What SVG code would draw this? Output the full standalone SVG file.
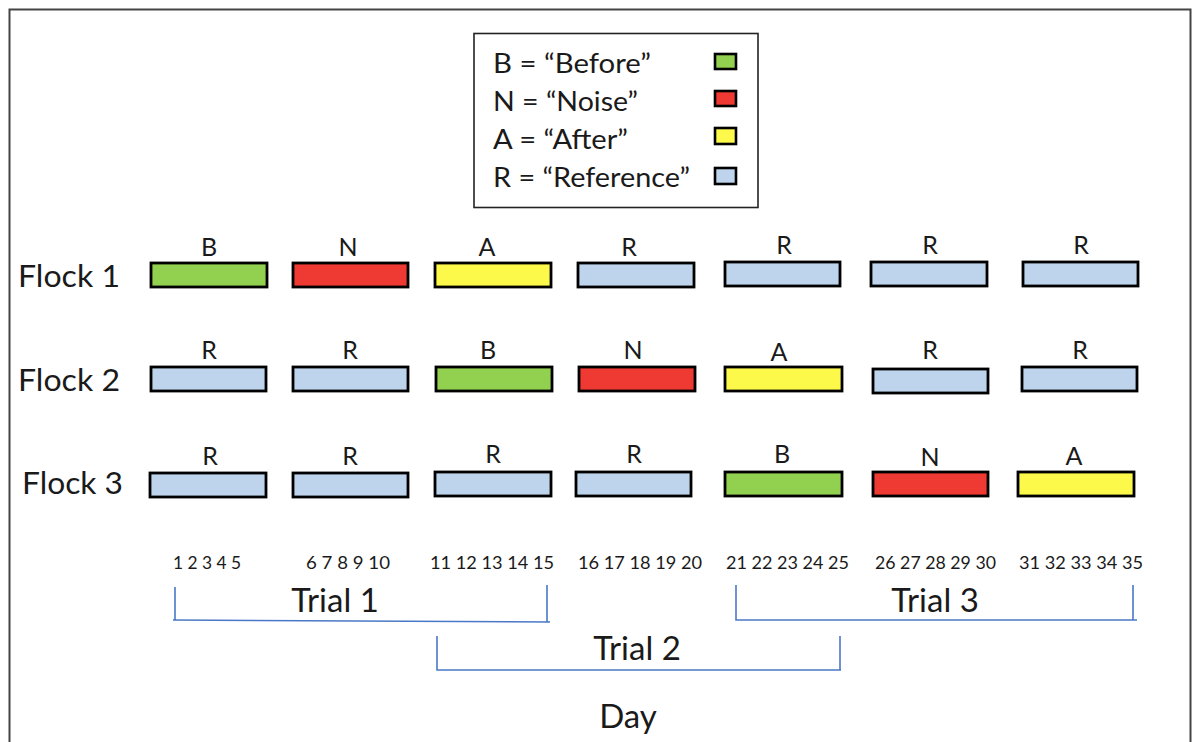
<svg xmlns="http://www.w3.org/2000/svg" width="1194" height="742" viewBox="0 0 1194 742">
  <style>
    text { font-family: Lato, "Open Sans", "Liberation Sans", sans-serif; fill: #1a1a1a; }
    .bar { stroke: #000; stroke-width: 2.8; }
    .sw { stroke: #000; stroke-width: 2.6; }
    .B { fill: #92D050; }
    .N { fill: #EE3A32; }
    .A { fill: #FCF94A; }
    .R { fill: #BDD4EC; }
    .lbl { font-size: 25px; text-anchor: middle; }
    .flock { font-size: 30px; }
    .leg { font-size: 27px; }
    .day { font-size: 16.5px; }
    .trial { font-size: 33px; text-anchor: middle; }
    .bracket { fill: none; stroke: #4A78C8; stroke-width: 1.6; }
  </style>

  <!-- outer frame -->
  <path d="M9.5 742 V9.5 H1190.5 V742" fill="none" stroke="#444" stroke-width="2"/>

  <!-- legend -->
  <g id="legend">
    <rect x="474" y="33.5" width="284" height="174" fill="#fff" stroke="#222" stroke-width="1.6"/>
    <text class="leg" x="493" y="73" textLength="158" lengthAdjust="spacingAndGlyphs">B = “Before”</text>
    <text class="leg" x="493" y="111" textLength="145" lengthAdjust="spacingAndGlyphs">N = “Noise”</text>
    <text class="leg" x="493" y="149" textLength="135" lengthAdjust="spacingAndGlyphs">A = “After”</text>
    <text class="leg" x="493" y="187" textLength="197" lengthAdjust="spacingAndGlyphs">R = “Reference”</text>
    <rect class="sw B" x="715" y="54" width="21" height="15"/>
    <rect class="sw N" x="715" y="91" width="21" height="15"/>
    <rect class="sw A" x="715" y="128" width="21" height="16"/>
    <rect class="sw R" x="715" y="168" width="21" height="16"/>
  </g>

  <!-- Flock 1 -->
  <g id="flock1">
    <text class="flock" x="18" y="287" textLength="102" lengthAdjust="spacingAndGlyphs">Flock 1</text>
    <rect class="bar B" x="151" y="263" width="116" height="24"/>
    <text class="lbl" x="209" y="256">B</text>
    <rect class="bar N" x="293" y="263" width="115" height="24"/>
    <text class="lbl" x="348" y="256">N</text>
    <rect class="bar A" x="435" y="263" width="116" height="24"/>
    <text class="lbl" x="487" y="256">A</text>
    <rect class="bar R" x="578" y="263" width="116" height="24"/>
    <text class="lbl" x="629" y="256">R</text>
    <rect class="bar R" x="725" y="262" width="115" height="24"/>
    <text class="lbl" x="784" y="254">R</text>
    <rect class="bar R" x="871" y="262" width="116" height="24"/>
    <text class="lbl" x="930" y="254">R</text>
    <rect class="bar R" x="1023" y="262" width="115" height="24"/>
    <text class="lbl" x="1081" y="254">R</text>
  </g>

  <!-- Flock 2 -->
  <g id="flock2">
    <text class="flock" x="18" y="391" textLength="102" lengthAdjust="spacingAndGlyphs">Flock 2</text>
    <rect class="bar R" x="151" y="367" width="115" height="24"/>
    <text class="lbl" x="209" y="359">R</text>
    <rect class="bar R" x="293" y="367" width="115" height="24"/>
    <text class="lbl" x="350" y="359">R</text>
    <rect class="bar B" x="436" y="367" width="116" height="24"/>
    <text class="lbl" x="488" y="359">B</text>
    <rect class="bar N" x="579" y="367" width="116" height="24"/>
    <text class="lbl" x="633" y="359">N</text>
    <rect class="bar A" x="725" y="367" width="117" height="24"/>
    <text class="lbl" x="779" y="361">A</text>
    <rect class="bar R" x="873" y="369" width="115" height="24"/>
    <text class="lbl" x="930" y="359">R</text>
    <rect class="bar R" x="1022" y="367" width="115" height="24"/>
    <text class="lbl" x="1080" y="359">R</text>
  </g>

  <!-- Flock 3 -->
  <g id="flock3">
    <text class="flock" x="22" y="494" textLength="101" lengthAdjust="spacingAndGlyphs">Flock 3</text>
    <rect class="bar R" x="150" y="473" width="116" height="24"/>
    <text class="lbl" x="210" y="465">R</text>
    <rect class="bar R" x="293" y="473" width="115" height="24"/>
    <text class="lbl" x="350" y="465">R</text>
    <rect class="bar R" x="435" y="472" width="116" height="24"/>
    <text class="lbl" x="493" y="463">R</text>
    <rect class="bar R" x="576" y="472" width="115" height="24"/>
    <text class="lbl" x="634" y="463">R</text>
    <rect class="bar B" x="725" y="472" width="117" height="24"/>
    <text class="lbl" x="782" y="463">B</text>
    <rect class="bar N" x="873" y="472" width="115" height="24"/>
    <text class="lbl" x="930" y="466">N</text>
    <rect class="bar A" x="1018" y="472" width="116" height="24"/>
    <text class="lbl" x="1074" y="465">A</text>
  </g>

  <!-- day numbers -->
  <g id="days">
    <text class="day" x="173" y="569" textLength="68" lengthAdjust="spacingAndGlyphs">1 2 3 4 5</text>
    <text class="day" x="306" y="569" textLength="84" lengthAdjust="spacingAndGlyphs">6 7 8 9 10</text>
    <text class="day" x="430" y="569" textLength="124" lengthAdjust="spacingAndGlyphs">11 12 13 14 15</text>
    <text class="day" x="578" y="569" textLength="124" lengthAdjust="spacingAndGlyphs">16 17 18 19 20</text>
    <text class="day" x="726" y="569" textLength="123" lengthAdjust="spacingAndGlyphs">21 22 23 24 25</text>
    <text class="day" x="875" y="569" textLength="121" lengthAdjust="spacingAndGlyphs">26 27 28 29 30</text>
    <text class="day" x="1019" y="569" textLength="124" lengthAdjust="spacingAndGlyphs">31 32 33 34 35</text>
  </g>

  <!-- trial brackets -->
  <g id="connectors">
    <path class="bracket" d="M175 587 V621 M173 620 L550 622 M547 585 V622"/>
    <path class="bracket" d="M736 585 V620 H1137 M1133 585 V620"/>
    <path class="bracket" d="M437 636 V670 H841 M840 636 V670"/>
  </g>

  <g id="trials">
    <text class="trial" x="335" y="612">Trial 1</text>
    <text class="trial" x="637" y="660">Trial 2</text>
    <text class="trial" x="935" y="612">Trial 3</text>
    <text class="trial" x="628" y="728">Day</text>
  </g>
</svg>
